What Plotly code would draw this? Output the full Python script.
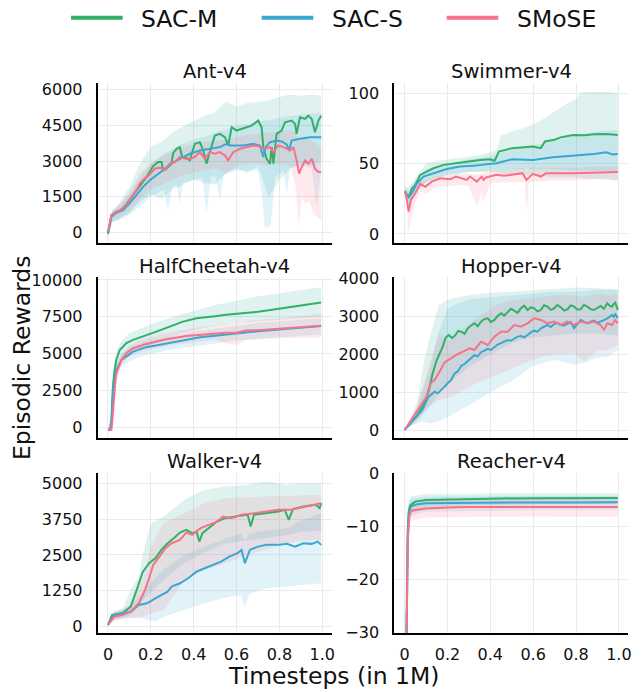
import plotly.graph_objects as go

# ---------------- data ----------------
SERIES = ["SAC-M", "SAC-S", "SMoSE"]
ENVS = ["Ant-v4", "Swimmer-v4", "HalfCheetah-v4", "Hopper-v4", "Walker-v4", "Reacher-v4"]
X_TICKS = [0, 0.2, 0.4, 0.6, 0.8, 1.0]
X_TICK_TEXT = ["0", "0.2", "0.4", "0.6", "0.8", "1.0"]

ANT_YTICKS = [0, 1500, 3000, 4500, 6000]
SW_YTICKS = [0, 50, 100]
HC_YTICKS = [0, 2500, 5000, 7500, 10000]
HP_YTICKS = [0, 1000, 2000, 3000, 4000]
WK_YTICKS = [0, 1250, 2500, 3750, 5000]
RC_YTICKS = [-30, -20, -10, 0]
ANT_YTEXT = ["0", "1500", "3000", "4500", "6000"]
SW_YTEXT = ["0", "50", "100"]
HC_YTEXT = ["0", "2500", "5000", "7500", "10000"]
HP_YTEXT = ["0", "1000", "2000", "3000", "4000"]
WK_YTEXT = ["0", "1250", "2500", "3750", "5000"]
RC_YTEXT = ["\u221230", "\u221220", "\u221210", "0"]

# ---- Ant-v4 ----
ANT_M_X = [0, 0.016, 0.04, 0.06, 0.086, 0.117, 0.148, 0.18, 0.21, 0.234, 0.25, 0.257, 0.273, 0.296, 0.304, 0.32, 0.335, 0.346, 0.366, 0.382, 0.405, 0.429, 0.444, 0.46, 0.475, 0.499, 0.522, 0.546, 0.561, 0.577, 0.6, 0.631, 0.67, 0.701, 0.717, 0.725, 0.74, 0.756, 0.764, 0.772, 0.787, 0.81, 0.826, 0.857, 0.873, 0.88, 0.896, 0.92, 0.935, 0.951, 0.966, 0.982, 0.995]
ANT_M_Y = [-60, 725, 865, 935, 1186, 1563, 1981, 2330, 2777, 2958, 2958, 2609, 2679, 2888, 3335, 3516, 3586, 3167, 3140, 3028, 3726, 3795, 3447, 2888, 3377, 4074, 4144, 4005, 3656, 4423, 4284, 4381, 4493, 4702, 4423, 3586, 3098, 2888, 3586, 2888, 4144, 4284, 4633, 4702, 4563, 4144, 4842, 4772, 4912, 4772, 4214, 4702, 4912]
ANT_S_X = [0, 0.016, 0.04, 0.07, 0.101, 0.133, 0.164, 0.195, 0.226, 0.257, 0.288, 0.32, 0.351, 0.382, 0.429, 0.475, 0.522, 0.553, 0.569, 0.6, 0.631, 0.678, 0.709, 0.725, 0.736, 0.756, 0.787, 0.81, 0.834, 0.845, 0.857, 0.896, 0.943, 0.995]
ANT_S_Y = [-80, 656, 823, 935, 1214, 1563, 1912, 2191, 2400, 2609, 2860, 3028, 3167, 3307, 3447, 3516, 3586, 3726, 3656, 3656, 3656, 3726, 3656, 3167, 3586, 3795, 3865, 3823, 3700, 3450, 3865, 3935, 4005, 4005]
ANT_E_X = [0, 0.016, 0.04, 0.07, 0.101, 0.133, 0.148, 0.171, 0.195, 0.218, 0.242, 0.265, 0.288, 0.312, 0.335, 0.359, 0.382, 0.405, 0.429, 0.452, 0.475, 0.499, 0.522, 0.546, 0.561, 0.585, 0.616, 0.647, 0.678, 0.709, 0.733, 0.756, 0.772, 0.795, 0.818, 0.85, 0.865, 0.88, 0.892, 0.904, 0.92, 0.935, 0.951, 0.966, 0.982, 0.995]
ANT_E_Y = [30, 725, 851, 1005, 1353, 1772, 2051, 2260, 2428, 2679, 2721, 2609, 2888, 2958, 3167, 3098, 3098, 3167, 3377, 3098, 3377, 3307, 3377, 3237, 3028, 3377, 3516, 3586, 3656, 3614, 3516, 3586, 3377, 3656, 3586, 3447, 3586, 3028, 2470, 2749, 3028, 2888, 3098, 2679, 2540, 2540]
ANT_MB_X = [0, 0.02, 0.05, 0.1, 0.15, 0.2, 0.25, 0.3, 0.35, 0.4, 0.45, 0.5, 0.55, 0.6, 0.65, 0.7, 0.75, 0.8, 0.85, 0.9, 0.95, 0.995]
ANT_MB_HI = [0, 900, 1200, 1900, 2900, 3600, 3800, 4200, 4450, 4700, 4900, 5050, 5500, 5300, 5450, 5500, 5550, 5700, 5800, 5750, 5800, 5750]
ANT_MB_LO = [-100, 450, 550, 800, 1300, 1600, 1400, 1800, 2000, 2200, 2100, 2000, 2500, 2700, 2500, 2800, 1500, 2200, 2700, 2900, 2800, 3000]
ANT_SB_X = [0, 0.02, 0.05, 0.1, 0.15, 0.2, 0.26, 0.28, 0.3, 0.32, 0.335, 0.35, 0.4, 0.44, 0.46, 0.48, 0.5, 0.522, 0.54, 0.6, 0.65, 0.7, 0.72, 0.73, 0.745, 0.76, 0.78, 0.82, 0.834, 0.85, 0.9, 0.95, 0.974, 0.995]
ANT_SB_HI = [0, 900, 1100, 1600, 2300, 2900, 3300, 3400, 3500, 3600, 3700, 3750, 3900, 4000, 4050, 4100, 4200, 4250, 4300, 4500, 4550, 4650, 4700, 4700, 4720, 4750, 4780, 4850, 4870, 4900, 4950, 5000, 5000, 5020]
ANT_SB_LO = [-150, 400, 500, 750, 1100, 1500, 1800, 950, 1900, 2000, 1200, 2100, 2200, 2300, 800, 2300, 2400, 1350, 2400, 2600, 2600, 2600, 1500, 250, 200, 300, 2300, 2600, 1600, 2700, 2800, 2700, 1100, 2600]
ANT_EB_X = [0, 0.02, 0.05, 0.1, 0.15, 0.2, 0.25, 0.3, 0.35, 0.4, 0.45, 0.5, 0.55, 0.6, 0.65, 0.7, 0.75, 0.8, 0.85, 0.875, 0.89, 0.905, 0.92, 0.94, 0.96, 0.98, 0.995]
ANT_EB_HI = [100, 950, 1150, 1700, 2500, 2900, 3200, 3400, 3600, 3700, 3800, 3850, 3900, 4000, 4100, 4150, 4200, 4250, 4300, 4200, 3800, 3900, 4000, 3900, 3800, 3600, 3500]
ANT_EB_LO = [-100, 500, 600, 900, 1400, 1800, 2000, 2200, 2400, 2500, 2600, 2700, 2500, 2800, 2900, 2900, 2800, 2900, 2800, 2000, 250, 1500, 1200, 1300, 800, 600, 500]

# ---- Swimmer-v4 ----
SW_M_X = [0, 0.019, 0.035, 0.05, 0.073, 0.104, 0.135, 0.182, 0.228, 0.29, 0.352, 0.398, 0.42, 0.429, 0.44, 0.502, 0.56, 0.598, 0.636, 0.655, 0.7, 0.731, 0.788, 0.84, 0.884, 0.94, 0.995]
SW_M_Y = [30, 26.5, 32.5, 34.9, 42, 44.3, 46.7, 49.1, 50.3, 51.4, 52.6, 53.1, 52, 55, 58.5, 61, 61.5, 62.1, 61, 65.7, 67, 68.8, 70.4, 70.2, 70.9, 71, 70.4]
SW_S_X = [0, 0.019, 0.035, 0.058, 0.088, 0.135, 0.197, 0.259, 0.321, 0.383, 0.429, 0.502, 0.598, 0.693, 0.788, 0.884, 0.941, 0.97, 0.995]
SW_S_Y = [30, 26.1, 29.4, 36, 40.8, 43.2, 46.2, 47.9, 48.4, 49.6, 50.3, 53.1, 52.6, 54.5, 55.5, 56.9, 58.1, 56.5, 56.9]
SW_E_X = [0, 0.005, 0.019, 0.03, 0.05, 0.073, 0.096, 0.127, 0.166, 0.213, 0.24, 0.29, 0.305, 0.337, 0.36, 0.369, 0.38, 0.429, 0.464, 0.55, 0.569, 0.598, 0.636, 0.66, 0.788, 0.884, 0.96, 0.995]
SW_E_Y = [30, 30.1, 15.9, 24.2, 28.9, 35.6, 33.6, 37.2, 39.6, 38.9, 40.8, 38.4, 40.8, 37.2, 40.8, 38.4, 40.2, 42, 41.3, 43.2, 38.4, 42.7, 40.8, 43.2, 43.2, 43.6, 44.3, 44]
SW_MB_X = [0, 0.02, 0.05, 0.1, 0.15, 0.2, 0.25, 0.3, 0.35, 0.4, 0.43, 0.45, 0.5, 0.55, 0.6, 0.65, 0.7, 0.75, 0.8, 0.82, 0.85, 0.9, 0.95, 0.995]
SW_MB_HI = [34, 33, 40, 50, 52, 53, 54, 55, 56, 58, 60, 70, 73, 75, 78, 82, 87, 92, 96, 100, 101, 101, 101, 100]
SW_MB_LO = [26, 20, 28, 37, 40, 42, 43, 44, 44, 44, 44, 43, 42, 42, 41, 41, 40, 40, 40, 40, 39, 39, 39, 38]
SW_SB_X = [0, 0.02, 0.05, 0.1, 0.2, 0.3, 0.4, 0.5, 0.6, 0.7, 0.8, 0.9, 0.995]
SW_SB_HI = [33, 31, 38, 46, 50, 53, 55, 60, 63, 66, 70, 73, 74]
SW_SB_LO = [27, 21, 30, 37, 42, 44, 45, 46, 46, 46, 45, 45, 44]
SW_EB_X = [0, 0.01, 0.019, 0.03, 0.05, 0.073, 0.1, 0.15, 0.2, 0.25, 0.3, 0.33, 0.34, 0.36, 0.365, 0.4, 0.5, 0.56, 0.569, 0.58, 0.6, 0.7, 0.8, 0.9, 0.995]
SW_EB_HI = [31, 30, 28, 30, 33, 38, 38, 41, 42, 43, 43, 42, 42, 43, 43, 45, 46, 47, 44, 47, 47, 47, 47, 48, 48]
SW_EB_LO = [29, 20, 0, 10, 22, 30, 29, 33, 34, 35, 34, 22, 20, 30, 22, 36, 37, 37, 16, 36, 37, 38, 38, 39, 38]

# ---- HalfCheetah-v4 ----
HC_M_X = [0, 0.01, 0.016, 0.023, 0.03, 0.039, 0.055, 0.086, 0.117, 0.164, 0.226, 0.288, 0.35, 0.413, 0.45, 0.5, 0.55, 0.6, 0.65, 0.7, 0.75, 0.8, 0.85, 0.9, 0.95, 0.995]
HC_M_Y = [-150, -150, 500, 2800, 3800, 4600, 5260, 5720, 5940, 6170, 6500, 6840, 7180, 7400, 7450, 7550, 7650, 7700, 7800, 7850, 7950, 8050, 8150, 8250, 8350, 8480]
HC_S_X = [0, 0.011, 0.017, 0.023, 0.03, 0.039, 0.063, 0.086, 0.117, 0.179, 0.273, 0.366, 0.43, 0.5, 0.55, 0.643, 0.7, 0.75, 0.834, 0.9, 0.95, 0.995]
HC_S_Y = [-150, -150, 600, 2330, 3300, 3910, 4590, 4810, 5150, 5450, 5720, 5940, 6125, 6230, 6320, 6440, 6530, 6590, 6660, 6750, 6820, 6880]
HC_E_X = [0, 0.016, 0.021, 0.027, 0.033, 0.039, 0.063, 0.086, 0.117, 0.179, 0.273, 0.366, 0.43, 0.5, 0.55, 0.6, 0.643, 0.7, 0.75, 0.834, 0.9, 0.95, 0.995]
HC_E_Y = [-150, -150, 600, 1880, 2900, 3690, 4590, 5040, 5380, 5670, 5990, 6210, 6280, 6380, 6430, 6420, 6570, 6600, 6650, 6730, 6800, 6850, 6900]
HC_MB_X = [0, 0.016, 0.023, 0.03, 0.04, 0.06, 0.1, 0.15, 0.2, 0.3, 0.4, 0.5, 0.6, 0.7, 0.8, 0.9, 0.995]
HC_MB_HI = [-50, 700, 3300, 4400, 5200, 5800, 6400, 6700, 7000, 7500, 7900, 8300, 8600, 8900, 9100, 9300, 9500]
HC_MB_LO = [-250, 300, 2300, 3200, 4000, 4700, 5000, 5300, 5600, 6200, 6600, 6900, 7100, 7200, 7300, 7400, 7500]
HC_SB_X = [0, 0.017, 0.023, 0.03, 0.04, 0.06, 0.1, 0.15, 0.2, 0.3, 0.4, 0.5, 0.6, 0.7, 0.8, 0.9, 0.995]
HC_SB_HI = [-50, 800, 2800, 3800, 4400, 5000, 5400, 5700, 5900, 6200, 6500, 6700, 6900, 7100, 7200, 7300, 7400]
HC_SB_LO = [-250, 400, 1900, 2800, 3400, 4100, 4500, 4800, 5000, 5300, 5500, 5700, 5900, 6000, 6100, 6200, 6300]
HC_EB_X = [0, 0.016, 0.021, 0.027, 0.04, 0.06, 0.1, 0.15, 0.2, 0.3, 0.4, 0.5, 0.55, 0.6, 0.64, 0.7, 0.8, 0.9, 0.995]
HC_EB_HI = [-50, -50, 900, 2300, 4100, 4900, 5600, 5950, 6150, 6500, 6750, 6950, 7050, 7150, 7200, 7300, 7400, 7550, 7700]
HC_EB_LO = [-250, -250, 300, 1400, 3200, 4200, 4800, 5100, 5300, 5600, 5800, 5950, 5700, 5600, 5950, 6000, 6050, 6100, 6100]

# ---- Hopper-v4 ----
HP_M_X = [0, 0.026, 0.054, 0.083, 0.112, 0.131, 0.15, 0.165, 0.178, 0.192, 0.207, 0.221, 0.236, 0.25, 0.264, 0.28, 0.295, 0.31, 0.326, 0.341, 0.357, 0.372, 0.388, 0.403, 0.419, 0.434, 0.45, 0.465, 0.481, 0.496, 0.512, 0.527, 0.543, 0.558, 0.574, 0.589, 0.605, 0.62, 0.636, 0.651, 0.667, 0.682, 0.698, 0.713, 0.729, 0.744, 0.76, 0.775, 0.791, 0.806, 0.822, 0.837, 0.853, 0.868, 0.884, 0.9, 0.915, 0.93, 0.946, 0.957, 0.968, 0.975, 0.983, 0.99, 0.995]
HP_M_Y = [18, 210, 367, 630, 1024, 1506, 1856, 2050, 2205, 2450, 2512, 2430, 2500, 2620, 2599, 2540, 2687, 2760, 2818, 2740, 2861, 2930, 2950, 2850, 2906, 3010, 3081, 3020, 3124, 3200, 3150, 3090, 3212, 3280, 3168, 3240, 3212, 3130, 3168, 3290, 3255, 3170, 3212, 3300, 3238, 3150, 3186, 3290, 3255, 3180, 3186, 3300, 3255, 3190, 3168, 3230, 3274, 3200, 3343, 3280, 3255, 3320, 3360, 3250, 3168]
HP_S_X = [0, 0.026, 0.054, 0.083, 0.112, 0.14, 0.155, 0.171, 0.186, 0.202, 0.217, 0.233, 0.248, 0.264, 0.28, 0.295, 0.31, 0.326, 0.341, 0.357, 0.372, 0.388, 0.403, 0.419, 0.434, 0.45, 0.465, 0.481, 0.496, 0.512, 0.527, 0.543, 0.558, 0.574, 0.589, 0.605, 0.62, 0.636, 0.651, 0.667, 0.682, 0.698, 0.713, 0.729, 0.744, 0.76, 0.775, 0.791, 0.806, 0.822, 0.837, 0.853, 0.868, 0.884, 0.9, 0.915, 0.93, 0.946, 0.957, 0.968, 0.975, 0.983, 0.99, 0.995]
HP_S_Y = [18, 192, 367, 543, 892, 1024, 980, 1060, 1150, 1250, 1330, 1500, 1560, 1700, 1750, 1830, 1900, 1980, 1950, 2060, 2100, 2150, 2120, 2200, 2260, 2300, 2330, 2381, 2360, 2425, 2470, 2486, 2450, 2512, 2580, 2625, 2600, 2687, 2740, 2774, 2720, 2800, 2830, 2774, 2760, 2818, 2850, 2687, 2800, 2906, 2860, 2818, 2860, 2888, 2830, 2862, 2900, 2950, 2990, 3037, 2990, 3055, 3000, 2950]
HP_E_X = [0, 0.026, 0.054, 0.083, 0.102, 0.121, 0.14, 0.159, 0.188, 0.216, 0.245, 0.275, 0.305, 0.326, 0.357, 0.388, 0.419, 0.45, 0.481, 0.512, 0.543, 0.574, 0.605, 0.636, 0.667, 0.698, 0.729, 0.76, 0.791, 0.822, 0.853, 0.884, 0.915, 0.93, 0.946, 0.968, 0.983, 0.995]
HP_E_Y = [18, 236, 455, 718, 892, 1243, 1331, 1506, 1800, 1900, 2000, 2080, 2160, 2118, 2336, 2249, 2468, 2599, 2599, 2774, 2730, 2818, 2950, 2906, 2818, 2862, 2774, 2862, 2774, 2862, 2818, 2862, 2774, 2643, 2818, 2774, 2906, 2818]
HP_MB_X = [0, 0.03, 0.06, 0.083, 0.11, 0.14, 0.16, 0.2, 0.25, 0.31, 0.4, 0.5, 0.6, 0.7, 0.8, 0.9, 0.995]
HP_MB_HI = [18, 300, 700, 1600, 2300, 2900, 3300, 3430, 3500, 3560, 3620, 3650, 3680, 3720, 3760, 3740, 3710]
HP_MB_LO = [18, 130, 250, 400, 600, 800, 1000, 1200, 1450, 1700, 2000, 2300, 2450, 2500, 2550, 2550, 2500]
HP_SB_X = [0, 0.03, 0.06, 0.083, 0.12, 0.16, 0.2, 0.25, 0.31, 0.4, 0.5, 0.6, 0.7, 0.8, 0.9, 0.95, 0.995]
HP_SB_HI = [18, 280, 600, 1000, 1700, 2600, 3200, 3350, 3450, 3500, 3550, 3600, 3650, 3650, 3700, 3700, 3700]
HP_SB_LO = [18, 120, 200, 236, 192, 250, 350, 500, 700, 1000, 1300, 1700, 1856, 1724, 1900, 1942, 2118]
HP_EB_X = [0, 0.03, 0.06, 0.083, 0.1, 0.13, 0.16, 0.19, 0.22, 0.3, 0.41, 0.48, 0.55, 0.636, 0.7, 0.79, 0.84, 0.9, 0.95, 0.995]
HP_EB_HI = [18, 350, 800, 1100, 1418, 2000, 2556, 2400, 2380, 2800, 3255, 3400, 3450, 3500, 3550, 3550, 3500, 3600, 3550, 3600]
HP_EB_LO = [18, 150, 300, 455, 550, 700, 800, 850, 892, 1155, 1418, 1593, 1750, 1942, 2000, 2031, 1811, 2100, 2118, 2249]

# ---- Walker-v4 ----
WK_M_X = [0, 0.019, 0.067, 0.106, 0.134, 0.163, 0.192, 0.221, 0.249, 0.278, 0.307, 0.336, 0.365, 0.393, 0.413, 0.426, 0.441, 0.47, 0.508, 0.547, 0.585, 0.623, 0.652, 0.666, 0.681, 0.739, 0.796, 0.825, 0.844, 0.863, 0.911, 0.969, 0.988, 0.995]
WK_M_Y = [59, 408, 467, 698, 1281, 1920, 2213, 2388, 2678, 2911, 3086, 3282, 3376, 3261, 3318, 2968, 3261, 3436, 3666, 3785, 3841, 3876, 3900, 3492, 3900, 3959, 4015, 4075, 3726, 4098, 4190, 4249, 4134, 4308]
WK_S_X = [0, 0.029, 0.067, 0.106, 0.144, 0.182, 0.221, 0.259, 0.278, 0.297, 0.336, 0.374, 0.413, 0.451, 0.489, 0.528, 0.566, 0.604, 0.623, 0.639, 0.662, 0.7, 0.739, 0.796, 0.835, 0.873, 0.911, 0.95, 0.979, 0.995]
WK_S_Y = [59, 408, 467, 524, 757, 815, 990, 1165, 1222, 1397, 1514, 1689, 1920, 2038, 2154, 2269, 2444, 2562, 2678, 2213, 2678, 2793, 2853, 2853, 2888, 2793, 2911, 2888, 2968, 2853]
WK_E_X = [0, 0.029, 0.067, 0.106, 0.144, 0.173, 0.192, 0.211, 0.24, 0.268, 0.297, 0.336, 0.365, 0.393, 0.432, 0.47, 0.508, 0.537, 0.575, 0.623, 0.681, 0.739, 0.796, 0.854, 0.911, 0.969, 0.995]
WK_E_Y = [59, 349, 408, 524, 815, 1281, 1689, 2154, 2444, 2737, 2911, 3027, 3282, 3202, 3436, 3551, 3666, 3841, 3785, 3900, 3959, 4015, 4075, 4075, 4168, 4273, 4308]
WK_MB_X = [0, 0.03, 0.07, 0.106, 0.144, 0.163, 0.2, 0.26, 0.355, 0.451, 0.547, 0.65, 0.739, 0.835, 0.9, 0.995]
WK_MB_HI = [59, 550, 650, 1281, 1746, 2562, 3610, 3841, 4424, 4773, 4890, 4950, 5064, 4948, 5000, 5007]
WK_MB_LO = [59, 250, 300, 400, 700, 932, 1200, 1630, 2213, 2600, 2900, 3000, 3100, 3200, 3300, 3350]
WK_SB_X = [0, 0.03, 0.07, 0.106, 0.163, 0.22, 0.26, 0.355, 0.451, 0.566, 0.62, 0.639, 0.66, 0.739, 0.835, 0.9, 0.995]
WK_SB_HI = [59, 500, 600, 750, 1200, 1700, 2000, 2500, 2800, 3100, 3250, 3000, 3261, 3350, 3436, 3700, 3959]
WK_SB_LO = [59, 250, 300, 300, 291, 175, 349, 582, 815, 1048, 1100, 698, 1150, 1339, 1397, 1450, 1514]
WK_EB_X = [0, 0.03, 0.07, 0.106, 0.163, 0.2, 0.26, 0.355, 0.451, 0.547, 0.65, 0.739, 0.835, 0.9, 0.995]
WK_EB_HI = [59, 500, 600, 800, 1630, 2800, 3610, 3959, 4308, 4482, 4520, 4540, 4560, 4580, 4598]
WK_EB_LO = [59, 200, 250, 300, 349, 450, 582, 1630, 1979, 2213, 2500, 2700, 2900, 3000, 3027]

# ---- Reacher-v4 ----
RC_M_X = [0, 0.008, 0.014, 0.019, 0.026, 0.05, 0.1, 0.2, 0.3, 0.45, 0.6, 0.8, 0.995]
RC_M_Y = [-45, -32, -11.3, -7.2, -6.0, -5.3, -5.0, -4.9, -4.85, -4.7, -4.65, -4.6, -4.6]
RC_S_X = [0, 0.009, 0.015, 0.022, 0.03, 0.06, 0.1, 0.2, 0.3, 0.45, 0.6, 0.8, 0.995]
RC_S_Y = [-45, -32, -11.9, -7.2, -6.2, -5.8, -5.6, -5.55, -5.5, -5.5, -5.45, -5.45, -5.4]
RC_E_X = [0, 0.009, 0.015, 0.022, 0.03, 0.06, 0.1, 0.2, 0.3, 0.45, 0.6, 0.8, 0.995]
RC_E_Y = [-45, -33, -12.6, -8.2, -7.0, -6.8, -6.6, -6.4, -6.3, -6.3, -6.3, -6.3, -6.3]
RC_B_X = [0, 0.008, 0.014, 0.02, 0.03, 0.1, 0.3, 0.6, 0.995]
RC_MB_HI = [-40, -25, -8, -5, -4.3, -3.9, -3.8, -3.7, -3.7]
RC_MB_LO = [-50, -38, -14, -9, -7.5, -6.3, -6.0, -5.8, -5.7]
RC_SB_HI = [-40, -25, -8.5, -5.5, -4.7, -4.4, -4.3, -4.2, -4.2]
RC_SB_LO = [-50, -38, -15, -9.5, -8, -7.2, -7.0, -6.9, -6.8]
RC_EB_HI = [-40, -26, -9, -6, -5.2, -4.9, -4.8, -4.7, -4.7]
RC_EB_LO = [-50, -40, -16, -10.5, -9.0, -8.3, -8.2, -8.1, -8.2]

# ---------------- styling ----------------
# All positions below are window pixels; the page body margin is removed so the
# figure fills the 641x692 window exactly.
W, H = 641, 692
FONT = "DejaVu Sans"
COLORS = {"SAC-M": "#32b166", "SAC-S": "#39a7d0", "SMoSE": "#f77189"}
FILLS = {"SAC-M": "rgba(54,173,164,0.16)", "SAC-S": "rgba(57,167,208,0.15)",
         "SMoSE": "rgba(247,113,137,0.15)"}


def px(x):
    return x / W


def py(y):
    return 1 - y / H


COL_PX = [(97.7, 331.7), (394.3, 628.3)]
ROW_PX = [(82.7, 242.7), (277.3, 437.7), (472.7, 632.7)]
TITLE_Y_PX = [71, 266.7, 461.7]
X_RANGE = [-0.048, 1.044]

panels = [
    dict(lines=[(ANT_M_X, ANT_M_Y), (ANT_S_X, ANT_S_Y), (ANT_E_X, ANT_E_Y)],
         bands=[(ANT_MB_X, ANT_MB_LO, ANT_MB_HI), (ANT_SB_X, ANT_SB_LO, ANT_SB_HI), (ANT_EB_X, ANT_EB_LO, ANT_EB_HI)],
         yr=[-440, 6300], yt=ANT_YTICKS, ytt=ANT_YTEXT),
    dict(lines=[(SW_M_X, SW_M_Y), (SW_S_X, SW_S_Y), (SW_E_X, SW_E_Y)],
         bands=[(SW_MB_X, SW_MB_LO, SW_MB_HI), (SW_SB_X, SW_SB_LO, SW_SB_HI), (SW_EB_X, SW_EB_LO, SW_EB_HI)],
         yr=[-6.2, 107.5], yt=SW_YTICKS, ytt=SW_YTEXT),
    dict(lines=[(HC_M_X, HC_M_Y), (HC_S_X, HC_S_Y), (HC_E_X, HC_E_Y)],
         bands=[(HC_MB_X, HC_MB_LO, HC_MB_HI), (HC_SB_X, HC_SB_LO, HC_SB_HI), (HC_EB_X, HC_EB_LO, HC_EB_HI)],
         yr=[-680, 10180], yt=HC_YTICKS, ytt=HC_YTEXT),
    dict(lines=[(HP_M_X, HP_M_Y), (HP_S_X, HP_S_Y), (HP_E_X, HP_E_Y)],
         bands=[(HP_MB_X, HP_MB_LO, HP_MB_HI), (HP_SB_X, HP_SB_LO, HP_SB_HI), (HP_EB_X, HP_EB_LO, HP_EB_HI)],
         yr=[-184, 4026], yt=HP_YTICKS, ytt=HP_YTEXT),
    dict(lines=[(WK_M_X, WK_M_Y), (WK_S_X, WK_S_Y), (WK_E_X, WK_E_Y)],
         bands=[(WK_MB_X, WK_MB_LO, WK_MB_HI), (WK_SB_X, WK_SB_LO, WK_SB_HI), (WK_EB_X, WK_EB_LO, WK_EB_HI)],
         yr=[-210, 5370], yt=WK_YTICKS, ytt=WK_YTEXT),
    dict(lines=[(RC_M_X, RC_M_Y), (RC_S_X, RC_S_Y), (RC_E_X, RC_E_Y)],
         bands=[(RC_B_X, RC_MB_LO, RC_MB_HI), (RC_B_X, RC_SB_LO, RC_SB_HI), (RC_B_X, RC_EB_LO, RC_EB_HI)],
         yr=[-30, 0.15], yt=RC_YTICKS, ytt=RC_YTEXT),
]

fig = go.Figure()
layout = dict(width=W, height=H, margin=dict(l=0, r=0, t=0, b=0, pad=0, autoexpand=False),
              paper_bgcolor="white", plot_bgcolor="white", showlegend=False,
              font=dict(family=FONT, color="#111111"))
annotations = []
shapes = []

for i, p in enumerate(panels):
    r, c = divmod(i, 2)
    n = "" if i == 0 else str(i + 1)
    xa, ya = "x" + n, "y" + n
    for s, (bx, blo, bhi) in zip(SERIES, p["bands"]):
        fig.add_trace(go.Scatter(x=list(bx) + list(bx)[::-1], y=list(bhi) + list(blo)[::-1],
                                 fill="toself", fillcolor=FILLS[s], line=dict(width=0),
                                 mode="lines", hoverinfo="skip", xaxis=xa, yaxis=ya))
    for s, (lx, ly) in zip(SERIES, p["lines"]):
        fig.add_trace(go.Scatter(x=lx, y=ly, mode="lines", name=s,
                                 line=dict(color=COLORS[s], width=2), xaxis=xa, yaxis=ya))
    x0, x1 = COL_PX[c]
    y0, y1 = ROW_PX[r]
    axis_common = dict(showgrid=True, gridcolor="#ebebeb", gridwidth=1, zeroline=False,
                       showline=True, linecolor="black", linewidth=2, ticks="",
                       automargin=False,
                       tickfont=dict(family=FONT, size=16, color="#111111"))
    layout["xaxis" + n] = dict(axis_common, domain=[px(x0), px(x1)], range=X_RANGE,
                               anchor=ya, tickvals=X_TICKS, ticktext=X_TICK_TEXT,
                               showticklabels=(r == 2), ticklabelstandoff=6)
    layout["yaxis" + n] = dict(axis_common, domain=[py(y1), py(y0)], range=p["yr"],
                               anchor=xa, tickvals=p["yt"], ticktext=p["ytt"],
                               ticklabelstandoff=10)
    annotations.append(dict(text=ENVS[i], x=px((x0 + x1) / 2), y=py(TITLE_Y_PX[r]),
                            xref="paper", yref="paper", xanchor="center", yanchor="middle",
                            showarrow=False, font=dict(family=FONT, size=19.5, color="#111111")))

# axis titles
annotations.append(dict(text="Episodic Rewards", x=px(22), y=py(358), xref="paper", yref="paper",
                        xanchor="center", yanchor="middle", textangle=-90, showarrow=False,
                        font=dict(family=FONT, size=23.5, color="#111111")))
annotations.append(dict(text="Timesteps (in 1M)", x=px(334), y=py(676), xref="paper", yref="paper",
                        xanchor="center", yanchor="middle", showarrow=False,
                        font=dict(family=FONT, size=23.5, color="#111111")))

# legend (drawn as line segments + text)
LEG_LINE_PX = [(71, 122.7), (261.7, 313.3), (446.7, 498.3)]
LEG_TEXT_PX = [139, 330, 515]
LEG_Y_PX = 17.7
for s, (lx0, lx1), tx in zip(SERIES, LEG_LINE_PX, LEG_TEXT_PX):
    shapes.append(dict(type="line", xref="paper", yref="paper", x0=px(lx0), x1=px(lx1),
                       y0=py(LEG_Y_PX), y1=py(LEG_Y_PX),
                       line=dict(color=COLORS[s], width=4)))
    annotations.append(dict(text=s, x=px(tx), y=py(LEG_Y_PX + 1.5), xref="paper", yref="paper",
                            xanchor="left", yanchor="middle", showarrow=False,
                            font=dict(family=FONT, size=23.5, color="#111111")))

layout["annotations"] = annotations
layout["shapes"] = shapes
fig.update_layout(**layout)
fig.write_html("out.html", config={"displayModeBar": False, "staticPlot": False},
               post_script="document.body.style.margin='0';document.body.style.overflow='hidden';")
